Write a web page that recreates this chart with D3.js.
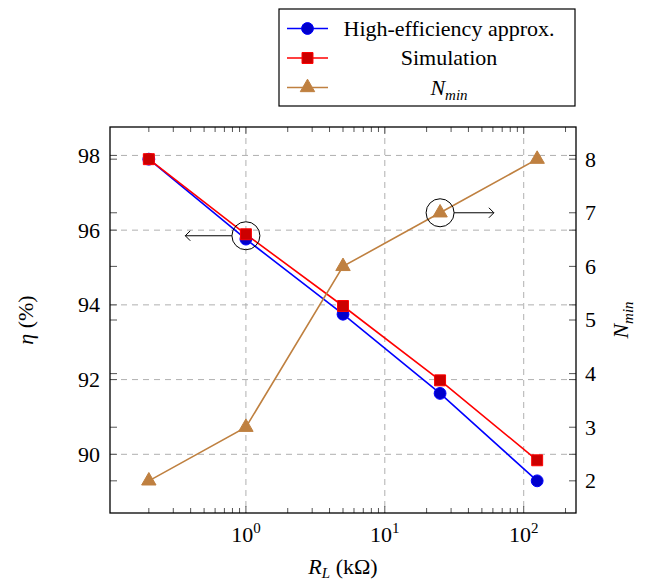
<!DOCTYPE html>
<html>
<head>
<meta charset="utf-8">
<script src="https://cdn.jsdelivr.net/npm/d3@7"></script>
<style>
  body { margin: 0; background: #fff; }
  text { font-family: "Liberation Serif", "Times New Roman", serif; }
</style>
</head>
<body>
<div id="vis"><svg></svg></div>
<script>
// data
var loads = [0.2, 1, 5, 25, 125];            // R_L in kOhm
var etaApprox = [97.9, 95.76, 93.75, 91.63, 89.29];
var etaSim = [97.9, 95.89, 93.97, 91.98, 89.84];
var nMin = [2, 3, 6, 7, 8];
var etaTicks = [90, 92, 94, 96, 98];
var nTicks = [2, 3, 4, 5, 6, 7, 8];
var xTicks = [1, 10, 100];
var legendNames = ["High-efficiency approx.", "Simulation", "N_min"];

var W = 646, H = 582;
var margin = {top: 127, right: 70, bottom: 69, left: 110},
    width = W - margin.left - margin.right,
    height = H - margin.top - margin.bottom;

var svg = d3.select("#vis").select("svg")
    .attr("width", W)
    .attr("height", H);

var g = svg.append("g")
    .attr("transform", "translate(" + margin.left + "," + margin.top + ")");

// pgfplots-style 10% enlargement of limits
function enlarge(lo, hi) { var d = (hi - lo) * 0.1; return [lo - d, hi + d]; }

var lx = enlarge(Math.log10(d3.min(loads)), Math.log10(d3.max(loads)));
var x = d3.scaleLog().domain([Math.pow(10, lx[0]), Math.pow(10, lx[1])]).range([0, width]);
var allEta = etaApprox.concat(etaSim);
var yL = d3.scaleLinear().domain(enlarge(d3.min(allEta), d3.max(allEta))).range([height, 0]);
var yR = d3.scaleLinear().domain(enlarge(d3.min(nMin), d3.max(nMin))).range([height, 0]);

// grid
g.selectAll(".gx").data(xTicks).enter().append("line")
  .attr("x1", function(d) { return x(d); }).attr("x2", function(d) { return x(d); })
  .attr("y1", 0).attr("y2", height)
  .attr("stroke", "#b0b0b0").attr("stroke-dasharray", "6,5").attr("stroke-width", 1);
g.selectAll(".gy").data(etaTicks).enter().append("line")
  .attr("y1", function(d) { return yL(d); }).attr("y2", function(d) { return yL(d); })
  .attr("x1", 0).attr("x2", width)
  .attr("stroke", "#b0b0b0").attr("stroke-dasharray", "6,5").attr("stroke-width", 1);

// x ticks (major + minor), inside, top and bottom
var minor = [];
for (var e = -1; e <= 2; e++) {
  for (var k = 2; k <= 9; k++) {
    var v = k * Math.pow(10, e);
    if (v > x.domain()[0] && v < x.domain()[1]) minor.push(v);
  }
}
var tickColor = "#555";
[0, height].forEach(function(yy) {
  var dir = yy === 0 ? 1 : -1;
  g.selectAll(null).data(xTicks).enter().append("line")
    .attr("x1", function(d) { return x(d); }).attr("x2", function(d) { return x(d); })
    .attr("y1", yy).attr("y2", yy + dir * 7).attr("stroke", tickColor);
  g.selectAll(null).data(minor).enter().append("line")
    .attr("x1", function(d) { return x(d); }).attr("x2", function(d) { return x(d); })
    .attr("y1", yy).attr("y2", yy + dir * 5).attr("stroke", tickColor);
});
// y ticks: left axis on both sides, right axis on both sides
[[yL, etaTicks], [yR, nTicks]].forEach(function(p) {
  var s = p[0];
  g.selectAll(null).data(p[1]).enter().append("line")
    .attr("x1", 0).attr("x2", 7)
    .attr("y1", function(d) { return s(d); }).attr("y2", function(d) { return s(d); })
    .attr("stroke", tickColor);
  g.selectAll(null).data(p[1]).enter().append("line")
    .attr("x1", width).attr("x2", width - 7)
    .attr("y1", function(d) { return s(d); }).attr("y2", function(d) { return s(d); })
    .attr("stroke", tickColor);
});

// tick labels
var xl = g.selectAll(".xl").data(xTicks).enter().append("text")
  .attr("x", function(d) { return x(d); }).attr("y", height + 29)
  .attr("text-anchor", "middle").style("font-size", "22px");
xl.append("tspan").text("10");
xl.append("tspan").attr("dy", -9).style("font-size", "15px")
  .text(function(d) { return Math.round(Math.log10(d)); });

g.selectAll(".yl").data(etaTicks).enter().append("text")
  .attr("x", -10).attr("y", function(d) { return yL(d); })
  .attr("dy", "0.34em").attr("text-anchor", "end").style("font-size", "22px")
  .text(function(d) { return d; });
g.selectAll(".yr").data(nTicks).enter().append("text")
  .attr("x", width + 9).attr("y", function(d) { return yR(d); })
  .attr("dy", "0.34em").attr("text-anchor", "start").style("font-size", "22px")
  .text(function(d) { return d; });

// axis labels
var xlab = g.append("text").attr("x", width / 2).attr("y", height + 61)
  .attr("text-anchor", "middle").style("font-size", "22px");
xlab.append("tspan").style("font-style", "italic").text("R");
xlab.append("tspan").attr("dy", 4).style("font-size", "15px").style("font-style", "italic").text("L");
xlab.append("tspan").attr("dy", -4).text(" (k\u03A9)");

g.append("text")
  .attr("transform", "translate(-77," + (height / 2) + ") rotate(-90)")
  .attr("text-anchor", "middle").style("font-size", "22px")
  .html('<tspan font-style="italic">\u03B7</tspan> (%)');

var rlab = g.append("text")
  .attr("transform", "translate(" + (width + 52) + "," + (height / 2) + ") rotate(-90)")
  .attr("text-anchor", "middle").style("font-size", "22px");
rlab.append("tspan").style("font-style", "italic").text("N");
rlab.append("tspan").attr("dy", 5).style("font-size", "15px").style("font-style", "italic").text("min");

// series
var series = [
  {name: legendNames[0], vals: etaApprox, y: yL, color: "#0000ff", fill: "#0000cc", mark: d3.symbolCircle, size: 110},
  {name: legendNames[1], vals: etaSim, y: yL, color: "#ff0000", fill: "#cc0000", mark: d3.symbolSquare, size: 120},
  {name: legendNames[2], vals: nMin, y: yR, color: "#bf8040", fill: "#bf8040", mark: d3.symbolTriangle, size: 90}
];

var line = d3.line();
series.forEach(function(s) {
  var pts = loads.map(function(l, i) { return [x(l), s.y(s.vals[i])]; });
  g.append("path").attr("d", line(pts))
    .attr("fill", "none").attr("stroke", s.color).attr("stroke-width", 1.6);
});
series.forEach(function(s) {
  loads.forEach(function(l, i) {
    g.append("path")
      .attr("d", d3.symbol().type(s.mark).size(s.size)())
      .attr("transform", "translate(" + x(l) + "," + s.y(s.vals[i]) + ")")
      .attr("fill", s.fill).attr("stroke", s.color).attr("stroke-width", 1);
  });
});

// annotations: circled point and arrow to its axis
var notes = [
  {cx: loads[1], cy: 95.85, scale: yL, to: 0.366},
  {cx: loads[3], cy: 7.0, scale: yR, to: 61}
];
notes.forEach(function(n) {
  var cx = x(n.cx), cy = n.scale(n.cy), r = 14;
  g.append("circle").attr("cx", cx).attr("cy", cy).attr("r", r)
    .attr("fill", "none").attr("stroke", "#000").attr("stroke-width", 1);
  var tx = x(n.to), dir = tx < cx ? -1 : 1;
  g.append("line").attr("x1", cx + dir * r).attr("x2", tx).attr("y1", cy).attr("y2", cy)
    .attr("stroke", "#000").attr("stroke-width", 1);
  g.append("path")
    .attr("d", "M" + (tx - dir * 5) + "," + (cy - 5) + " L" + tx + "," + cy + " L" + (tx - dir * 5) + "," + (cy + 5))
    .attr("fill", "none").attr("stroke", "#000").attr("stroke-width", 1);
});

// frame
g.append("rect").attr("width", width).attr("height", height)
  .attr("fill", "none").attr("stroke", "#000").attr("stroke-width", 1.3);

// legend
var leg = svg.append("g").attr("transform", "translate(279,9)");
leg.append("rect").attr("width", 296).attr("height", 97)
  .attr("fill", "#fff").attr("stroke", "#000").attr("stroke-width", 1.2);
series.forEach(function(s, i) {
  var yy = 19.5 + i * 29.5;
  leg.append("line").attr("x1", 8).attr("x2", 49).attr("y1", yy).attr("y2", yy)
    .attr("stroke", s.color).attr("stroke-width", 1.6);
  leg.append("path").attr("d", d3.symbol().type(s.mark).size(s.size)())
    .attr("transform", "translate(28.5," + yy + ")")
    .attr("fill", s.fill).attr("stroke", s.color);
  var t = leg.append("text").attr("x", 170).attr("y", yy).attr("dy", "0.33em")
    .attr("text-anchor", "middle").style("font-size", "22px");
  if (s.name === "N_min") {
    t.append("tspan").style("font-style", "italic").text("N");
    t.append("tspan").attr("dy", 5).style("font-size", "15px").style("font-style", "italic").text("min");
  } else {
    t.text(s.name);
  }
});
</script>
</body>
</html>
